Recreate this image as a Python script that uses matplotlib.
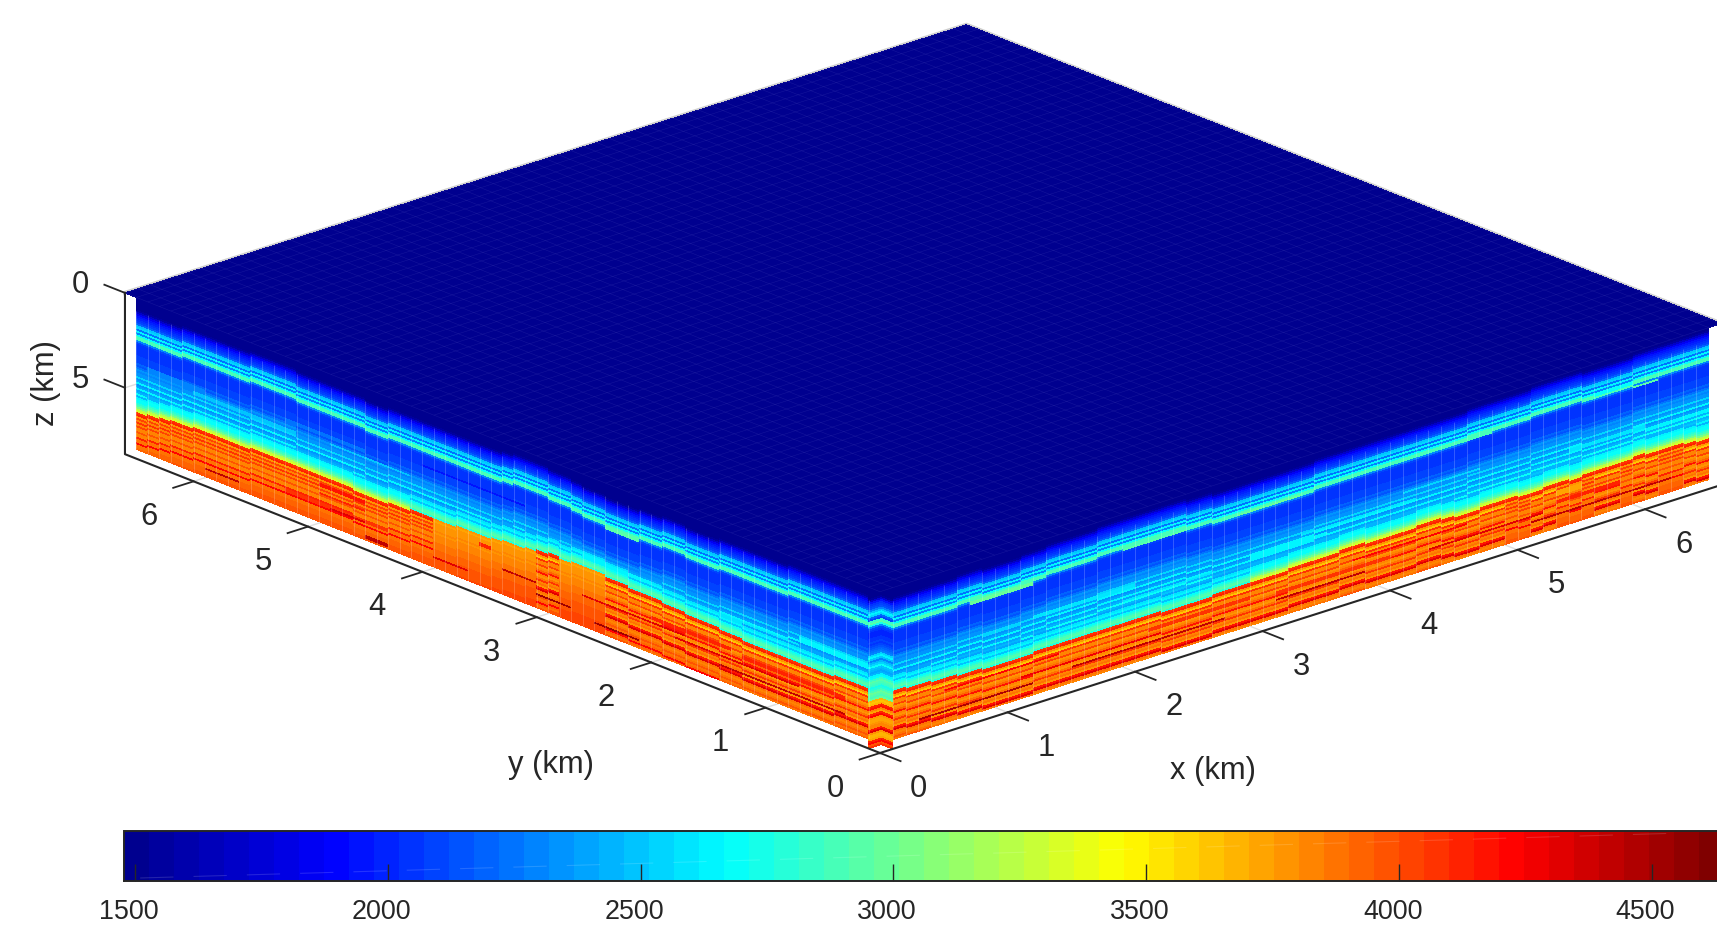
#velocity model block, two side walls and the top of the grid
#python3 plot.py

import numpy as np
import matplotlib
matplotlib.use('Agg')
from matplotlib import pyplot as plt
from matplotlib.cm import ScalarMappable
from matplotlib.colors import Normalize, LinearSegmentedColormap
from matplotlib.transforms import ScaledTranslation
from mpl_toolkits.mplot3d import proj3d
from mpl_toolkits.mplot3d.art3d import Line3DCollection

plt.rcParams['font.family'] = ['Liberation Sans', 'DejaVu Sans']

#the values
vmin, vmax = 1478, 4643
cbar_ticks = [1500, 2000, 2500, 3000, 3500, 4000, 4500]
x_ticks = [0, 1, 2, 3, 4, 5, 6]
y_ticks = [0, 1, 2, 3, 4, 5, 6]
z_ticks = [0, 5]

#layers from the top down to the first green streak
shallow_v = [1500]*14 + [1560, 1700, 1850, 1950, 2000, 2050, 2100, 2200, 2500, 2560, 2250, 2620, 2300, 2700, 2900, 2900, 2300]
#blue part in the middle
mid_v = [2100, 2060, 2040, 2050, 2040, 2070, 2050, 2100, 2080, 2120, 2100, 2180, 2160, 2260, 2320, 2280, 2360,
         2320, 2560, 2340, 2380, 2620, 2360, 2400, 2640, 2380, 2450, 2700, 2420, 2500, 2620, 2450, 2500, 2600]
#just above the orange part
trans_green = [2400, 2600, 2650, 2500, 2680, 2780, 2880, 2920, 2780]
trans_yellow = [2450, 2620, 2680, 2700, 2780, 2900, 3050, 3220, 3340]
#orange part, three kinds of column
deep_streak = [4080, 4100, 3780, 3620, 4060, 3820, 3850, 4020, 3780, 3820, 3950, 4180, 3830, 3800, 3900, 4080, 3820,
               3880, 3780, 4150, 4320, 3860, 3820, 3900, 3960, 3900, 3950, 4200, 3950, 3900, 4000, 4000, 4000, 4000]
deep_plain = [3780, 3740, 3770, 3790, 3770, 3800, 3820, 3800, 3840, 3820, 3850, 3840, 3870, 3880, 3870, 3900, 3910,
              3930, 3920, 3950, 3970, 3960, 3980, 3990, 4000, 4000, 4020, 4010, 4020, 4020, 4020, 4020, 4020, 4020]
deep_upper = [4080, 4120, 3800, 4040, 3830, 4080, 3820, 4040, 3850, 3830, 4000, 3820, 3850, 4120, 3870, 3880, 4220,
              3880, 3900, 3920, 3930, 3950, 3960, 3970, 3980, 3990, 4000, 4000, 4020, 4020, 4020, 4020, 4020, 4020]

#row of the green streak and of the top of the orange part, for each column
left_green = [19, 19, 19, 19, 19, 19, 19, 20, 20, 20, 20, 20, 20, 21, 21, 21, 20, 20, 21, 21,
              22, 22, 22, 21, 21, 20, 19, 19, 18, 18, 18, 19, 20, 20, 20, 20, 20, 20, 20, 20,
              20, 20, 21, 21, 20, 20, 20, 20, 20, 20, 19, 19, 19, 19, 20, 20, 20, 20, 20, 20,
              21, 21, 21, 21]
left_bound = [53, 53, 53, 54, 54, 54, 54, 54, 54, 54, 54, 53, 53, 52, 52, 52, 51, 51, 50, 50,
              50, 49, 49, 48, 48, 48, 49, 48, 49, 50, 51, 51, 52, 53, 53, 53, 54, 54, 54, 54,
              55, 55, 56, 56, 56, 55, 55, 55, 55, 55, 55, 55, 55, 55, 56, 56, 56, 56, 56, 57,
              57, 58, 59, 60]
right_green = [20, 20, 20, 20, 20, 19, 19, 20, 20, 20, 19, 19, 18, 18, 18, 18, 17, 17, 17, 17,
               17, 17, 17, 18, 18, 19, 19, 19, 19, 19, 19, 19, 19, 18, 18, 18, 18, 18, 18, 18,
               18, 18, 18, 18, 18, 17, 17, 17, 17, 17, 16, 16, 16, 16, 17, 17, 17, 17, 16, 16,
               16, 16, 16, 16]
right_bound = [54, 55, 55, 56, 56, 57, 57, 58, 58, 58, 58, 57, 57, 57, 57, 57, 57, 57, 57, 57,
               57, 58, 58, 58, 58, 57, 57, 57, 57, 57, 57, 56, 56, 56, 56, 55, 55, 56, 56, 56,
               56, 55, 55, 56, 57, 57, 56, 56, 56, 57, 57, 56, 56, 57, 56, 56, 56, 56, 55, 56,
               56, 56, 57, 58]
left_trans = [0]*40 + [1]*24
right_trans = [0]*28 + [1]*36
left_deep = [0]*23 + [1]*4 + [0]*2 + [1]*9 + [2]*26
right_deep = [0]*48 + [2, 2, 0, 0, 2, 2, 2, 0, 0, 2, 0, 0, 2, 2, 0, 0]

#short pieces that break the layers: row, number of rows, first column, last column, value
left_pieces = [(22, 2, 20, 22, 2950), (20, 2, 13, 14, 2900), (19, 1, 5, 6, 2900), (18, 2, 2, 3, 2900),
               (37, 2, 50, 58, 2500), (36, 1, 40, 46, 2500), (42, 2, 19, 24, 2650), (44, 1, 6, 13, 2600),
               (40, 2, 0, 5, 2650), (32, 2, 44, 50, 2250), (34, 3, 58, 62, 2300), (28, 1, 30, 38, 1950),
               (62, 2, 2, 10, 4100), (66, 1, 6, 16, 4300), (71, 1, 2, 12, 4400), (60, 2, 12, 18, 4120),
               (63, 1, 16, 24, 4300), (69, 2, 42, 50, 4080), (59, 2, 44, 47, 4150), (64, 1, 44, 47, 4120),
               (70, 1, 44, 46, 4300), (77, 2, 42, 43, 4400), (74, 1, 35, 37, 4300), (57, 2, 33, 33, 4100),
               (75, 1, 55, 57, 4400), (72, 1, 26, 28, 4500), (75, 1, 20, 23, 4500), (66, 1, 29, 31, 4400)]
right_pieces = [(20, 2, 6, 10, 3000), (18, 1, 18, 22, 2950), (19, 1, 27, 31, 3000), (18, 1, 35, 41, 2900),
                (18, 1, 43, 46, 2900), (18, 1, 58, 59, 2950), (16, 1, 55, 57, 2700),
                (39, 1, 7, 9, 2550), (38, 2, 11, 18, 2600), (45, 1, 18, 25, 2600), (43, 2, 28, 33, 2650),
                (40, 1, 32, 40, 2600), (35, 1, 40, 45, 2550), (40, 2, 53, 58, 2600), (42, 2, 59, 63, 2650),
                (62, 1, 4, 12, 4200), (68, 1, 10, 20, 4250), (64, 2, 20, 27, 4080), (71, 1, 14, 25, 4400),
                (73, 1, 2, 10, 4450), (66, 2, 30, 38, 4080), (62, 1, 36, 44, 4200), (69, 1, 42, 50, 4300),
                (65, 2, 52, 56, 4100), (72, 1, 50, 60, 4400), (60, 3, 52, 53, 3750), (70, 1, 30, 36, 4400)]

#the small column at the front corner
corner_v = [1500, 1500, 1500, 1500, 1500, 1500, 1560, 1750, 1950, 2050, 2100, 2150, 2300, 2500, 2650, 2550, 2200,
            2100, 2850, 2950, 2750, 2300, 2100, 2030, 2000, 2020, 2010, 2050, 2030, 2080, 2060, 2100, 2140, 2180,
            2240, 2300, 2550, 2650, 2500, 2300, 2450, 2550, 2700, 2500, 2420, 2380, 2450, 2620, 2700, 2850, 2950,
            2900, 2850, 2750, 2800, 2900, 3000, 2950, 2900, 3000, 3680, 3640, 3700, 4100, 4150, 3850, 3750, 4100,
            4200, 3800, 3720, 3750, 3800, 3820, 3850, 4150, 4300, 3800, 3700, 3680, 3750, 4100, 4200, 4000, 4050]

nz = 80
ncol = 64
cell = 0.1
top_size = 6.6
z_max = 8.5


#stack the layers for one wall
def build_wall(green, bound, trans_kind, deep_kind, pieces):
    wall = np.zeros((nz, ncol))
    for i in range(ncol):
        g = green[i]
        b = bound[i]
        trans = trans_yellow if trans_kind[i] else trans_green
        deep = [deep_streak, deep_plain, deep_upper][deep_kind[i]]
        nt = len(trans)
        wall[:g+2, i] = shallow_v[-(g+2):]
        wall[g+2:b-nt, i] = mid_v[:b-nt-g-2]
        wall[b-nt:b, i] = trans
        wall[b:, i] = deep[:nz-b]
    for row, nrow, c0, c1, v in pieces:
        wall[row:row+nrow, c0:c1+1] = v
    return wall


left_wall = build_wall(left_green, left_bound, left_trans, left_deep, left_pieces)
right_wall = build_wall(right_green, right_bound, right_trans, right_deep, right_pieces)
corner = np.array(corner_v).reshape(-1, 1)

#the 64 step jet of the original, a little different from the one in matplotlib
jet_parts = {'red': [(0, 0, 0), (0.375, 0, 0), (0.625, 1, 1), (0.875, 1, 1), (1, 0.5, 0.5)],
             'green': [(0, 0, 0), (0.125, 0, 0), (0.375, 1, 1), (0.625, 1, 1), (0.875, 0, 0), (1, 0, 0)],
             'blue': [(0, 0.5625, 0.5625), (0.125, 1, 1), (0.375, 1, 1), (0.625, 0, 0), (1, 0, 0)]}
cmap = LinearSegmentedColormap('jet64', jet_parts, N=64)
norm = Normalize(vmin, vmax)

W, H = 1717, 927
fig = plt.figure(figsize=(W/100, H/100), dpi=100)
ax = fig.add_subplot(projection='3d', proj_type='ortho', computed_zorder=False)
ax.set_axis_off()
ax.patch.set_alpha(0)


#one flat sheet of cells, from start to end on the floor
def sheet(values, start, end, zo):
    nr, nc = values.shape
    t = np.linspace(0, 1, nc+1)
    zs = np.arange(nr+1)*cell
    px = start[0] + (end[0]-start[0])*t
    py = start[1] + (end[1]-start[1])*t
    X, Z = np.meshgrid(px, zs)
    Y = np.tile(py, (nr+1, 1))
    ax.plot_surface(X, Y, Z, facecolors=cmap(norm(values)), rstride=1, cstride=1, shade=False,
                    linewidth=0, antialiased=False, zorder=zo)


dark = '#262626'
#back edges and floor grid, under the block
ax.plot([0, top_size, top_size], [top_size, top_size, 0], [0, 0, 0], color='#cfcfcf', lw=3, zorder=1)
for k in y_ticks[1:]:
    ax.plot([0, 0.12], [k, k], [z_max, z_max], color='#dddddd', lw=1, zorder=1)
for k in x_ticks[1:]:
    ax.plot([k, k], [0, 0.12], [z_max, z_max], color='#dddddd', lw=1, zorder=1)
ax.plot([0, 0.12], [top_size, top_size], [5, 5], color='#dddddd', lw=1, zorder=1)

#the walls
sheet(left_wall[:, ::-1], (0, 6.5), (0, 0.1), 3)
sheet(right_wall, (0.1, 0), (6.5, 0), 3)
sheet(corner, (0, 0.1), (0.1, 0.1), 3)
sheet(corner, (0.1, 0.1), (0.1, 0), 3)

#light seams between the columns
seams = []
for k in range(ncol+1):
    c = 0.1 + k*cell
    seams.append([(0, c, 0.7), (0, c, 8.0)])
    seams.append([(c, 0, 0.7), (c, 0, 8.0)])
ax.add_collection3d(Line3DCollection(seams, colors='white', alpha=0.2, linewidths=0.7, zorder=4), autolim=False)

#top of the grid
top = np.full((66, 66), 1500.0)
gx, gy = np.meshgrid(np.linspace(0, top_size, 67), np.linspace(0, top_size, 67))
ax.plot_surface(gx, gy, np.zeros_like(gx), facecolors=cmap(norm(top)), rstride=1, cstride=1, shade=False,
                linewidth=0, antialiased=False, zorder=5)
grid = []
for k in range(67):
    grid.append([(k*cell, 0, 0), (k*cell, top_size, 0)])
    grid.append([(0, k*cell, 0), (top_size, k*cell, 0)])
ax.add_collection3d(Line3DCollection(grid, colors='#7070d0', alpha=0.18, linewidths=0.4, zorder=6), autolim=False)

#axes lines and ticks
ax.plot([0, 0, 0], [top_size, top_size, 0], [0, z_max, z_max], color=dark, lw=1.5, zorder=8)
ax.plot([0, top_size], [0, 0], [z_max, z_max], color=dark, lw=1.5, zorder=8)
for k in y_ticks:
    ax.plot([0, -0.16], [k, k], [z_max, z_max], color=dark, lw=1.3, zorder=8)
for k in x_ticks:
    ax.plot([k, k], [0, -0.18], [z_max, z_max], color=dark, lw=1.3, zorder=8)
for k in z_ticks:
    ax.plot([0, 0], [top_size, top_size+0.18], [k, k], color=dark, lw=1.3, zorder=8)

ax.set_xlim(0, top_size)
ax.set_ylim(0, top_size)
ax.set_zlim(z_max, 0)
ax.set_box_aspect((1131, 1131, 172.6))
ax.view_init(elev=20.8, azim=-131.9)

#the box is bigger than the axes rectangle, do not cut it
for art in ax.get_children():
    art.set_clip_on(False)


#fit the 3d box on the canvas: x=0 should land on 880,753 and x=6 on 1645,510
def to_px(pt):
    ax.apply_aspect()
    a, b, _ = proj3d.proj_transform(pt[0], pt[1], pt[2], ax.get_proj())
    return ax.transData.transform((a, b))


side = 1500.0
ax.set_position([0, 0, side/W, side/H])
p0 = to_px((0, 0, z_max))
p1 = to_px((6, 0, z_max))
side = side*765/(p1[0]-p0[0])
ax.set_position([0, 0, side/W, side/H])
p0 = to_px((0, 0, z_max))
ax.set_position([(880-p0[0])/W, ((H-753)-p0[1])/H, side/W, side/H])


#text goes on the figure, at the place the 3d point lands on
def label(pt, s, **kw):
    p = to_px(pt)
    fig.text(p[0]/W, (p[1]-2.5)/H, s, fontsize=22.3, color=dark, ha='center', va='center', **kw)


for k in y_ticks:
    label((-0.559, k-0.229, z_max), str(k))
for k in x_ticks:
    label((k-0.194, -0.556, z_max), str(k))
for k in z_ticks:
    label((-0.085, top_size+0.298, k), str(k))
label((-0.343, top_size+0.3076, 4.63), 'z (km)', rotation=90)
label((-1.529, 1.171, z_max), 'y (km)')
label((1.271, -1.493, z_max), 'x (km)')

#colorbar, runs past the right edge of the figure
cax = fig.add_axes([124/W, 1-881/H, 1600/W, 50/H])
cb = fig.colorbar(ScalarMappable(norm=norm, cmap=cmap), cax=cax, orientation='horizontal')
cb.set_ticks(cbar_ticks)
cb.ax.tick_params(direction='in', length=12, width=1, color=dark, labelsize=19.4, labelcolor=dark, pad=13)
cb.outline.set_edgecolor(dark)
cb.outline.set_linewidth(1.4)
#labels sit a little left of their ticks in the original
shift = ScaledTranslation(-4.5/72, 0, fig.dpi_scale_trans)
for t in cb.ax.get_xticklabels():
    t.set_transform(t.get_transform() + shift)
#faint streak across the bar
cb.ax.plot([1510, 4562], [0.06, 0.96], color='white', alpha=0.14, lw=0.8, dashes=(30, 18))

fig.savefig('out.png', dpi=100)
